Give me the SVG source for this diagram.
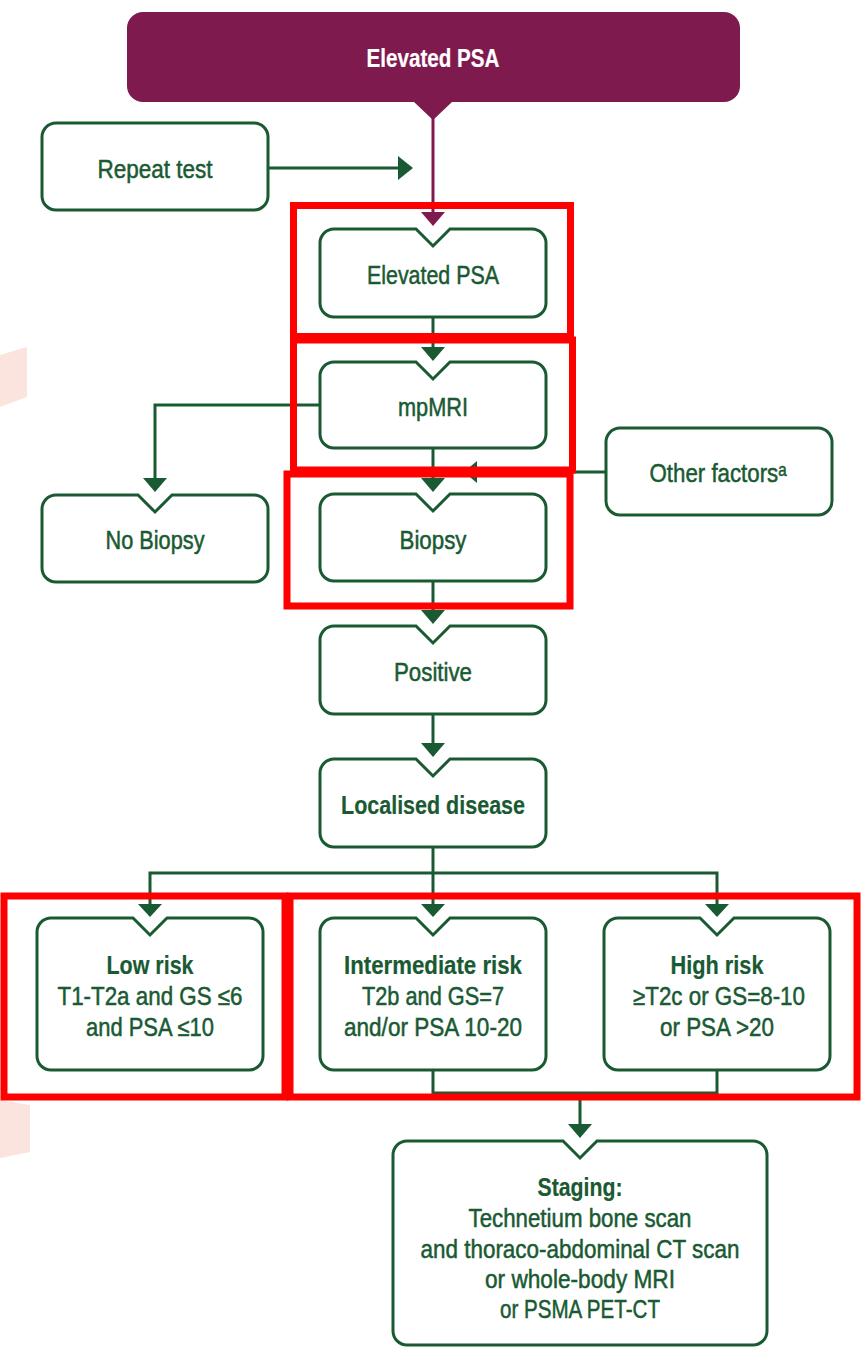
<svg xmlns="http://www.w3.org/2000/svg" width="861" height="1348" viewBox="0 0 861 1348">
  <style>
    .box { fill: #ffffff; stroke: #1a5a33; stroke-width: 3; }
    .t { font-family: "Liberation Sans Narrow", "Liberation Sans", "DejaVu Sans", Arial, sans-serif; font-size: 25px; fill: #1a5a33; stroke: #1a5a33; stroke-width: 0.5; text-anchor: middle; }
    .b { font-weight: bold; stroke-width: 0.2; }
    .w { fill: #ffffff; stroke: #ffffff; }
    .ln { stroke: #1a5a33; stroke-width: 3; fill: none; }
    .ah { fill: #1a5a33; }
    .hl { fill: none; stroke: #ff0000; stroke-width: 7; }
    .bg { fill: #fbe4dd; }
  </style>

  <rect width="861" height="1348" fill="#ffffff"/>

  <!-- faint background shapes at the left margin -->
  <g id="background">
    <polygon class="bg" points="0,355 27,347 27,397 0,407"/>
    <polygon class="bg" points="0,1100 30,1105 30,1152 0,1158"/>
  </g>

  <!-- connectors -->
  <g id="connectors">
    <line x1="433" y1="118" x2="433" y2="214" stroke="#7e1a4e" stroke-width="3"/>
    <polygon points="421,212 445,212 433,226" fill="#7e1a4e"/>

    <line class="ln" x1="268" y1="168" x2="400" y2="168"/>
    <polygon class="ah" points="398,156 398,180 413,168"/>

    <line class="ln" x1="433" y1="317" x2="433" y2="349"/>
    <polygon class="ah" points="421,347 445,347 433,361"/>

    <polyline class="ln" points="320,405 155,405 155,480"/>
    <polygon class="ah" points="143,478 167,478 155,492"/>

    <line class="ln" x1="433" y1="448" x2="433" y2="480"/>
    <polygon class="ah" points="421,478 445,478 433,492"/>

    <line class="ln" x1="606" y1="472" x2="476" y2="472"/>
    <polygon class="ah" points="477,461 477,483 464,472"/>

    <line class="ln" x1="433" y1="581" x2="433" y2="612"/>
    <polygon class="ah" points="421,610 445,610 433,624"/>

    <line class="ln" x1="433" y1="714" x2="433" y2="745"/>
    <polygon class="ah" points="421,743 445,743 433,757"/>

    <line class="ln" x1="433" y1="847" x2="433" y2="906"/>
    <polyline class="ln" points="150,906 150,873 717,873 717,906"/>
    <polygon class="ah" points="138,904 162,904 150,917"/>
    <polygon class="ah" points="421,904 445,904 433,917"/>
    <polygon class="ah" points="705,904 729,904 717,917"/>

    <polyline class="ln" points="433,1070 433,1093 717,1093 717,1070"/>
    <line class="ln" x1="580" y1="1093" x2="580" y2="1126"/>
    <polygon class="ah" points="568,1124 592,1124 580,1138"/>
  </g>

  <g id="n-elevated-top">
    <path d="M143 12 H724 A16 16 0 0 1 740 28 V86 A16 16 0 0 1 724 102 H452 L433 120 L414 102 H143 A16 16 0 0 1 127 86 V28 A16 16 0 0 1 143 12 Z" fill="#7e1a4e"/>
    <text class="t b w" x="433" y="67" textLength="133" lengthAdjust="spacingAndGlyphs">Elevated PSA</text>
  </g>

  <g id="n-repeat">
    <rect class="box" x="42" y="123" width="226" height="87" rx="14"/>
    <text class="t" x="155" y="178" textLength="115" lengthAdjust="spacingAndGlyphs">Repeat test</text>
  </g>

  <g id="n-elevated">
    <path class="box" d="M334 229 H416 L433 246 L450 229 H532 A14 14 0 0 1 546 243 V303 A14 14 0 0 1 532 317 H334 A14 14 0 0 1 320 303 V243 A14 14 0 0 1 334 229 Z"/>
    <text class="t" x="433" y="284" textLength="132" lengthAdjust="spacingAndGlyphs">Elevated PSA</text>
  </g>

  <g id="n-mpmri">
    <path class="box" d="M334 362 H416 L433 379 L450 362 H532 A14 14 0 0 1 546 376 V434 A14 14 0 0 1 532 448 H334 A14 14 0 0 1 320 434 V376 A14 14 0 0 1 334 362 Z"/>
    <text class="t" x="433" y="416" textLength="70" lengthAdjust="spacingAndGlyphs">mpMRI</text>
  </g>

  <g id="n-nobiopsy">
    <path class="box" d="M56 495 H138 L155 512 L172 495 H254 A14 14 0 0 1 268 509 V568 A14 14 0 0 1 254 582 H56 A14 14 0 0 1 42 568 V509 A14 14 0 0 1 56 495 Z"/>
    <text class="t" x="155" y="549" textLength="99" lengthAdjust="spacingAndGlyphs">No Biopsy</text>
  </g>

  <g id="n-biopsy">
    <path class="box" d="M334 494 H416 L433 511 L450 494 H532 A14 14 0 0 1 546 508 V567 A14 14 0 0 1 532 581 H334 A14 14 0 0 1 320 567 V508 A14 14 0 0 1 334 494 Z"/>
    <text class="t" x="433" y="549" textLength="67" lengthAdjust="spacingAndGlyphs">Biopsy</text>
  </g>

  <g id="n-other">
    <rect class="box" x="606" y="428" width="226" height="87" rx="14"/>
    <text class="t" x="718" y="482" textLength="137" lengthAdjust="spacingAndGlyphs">Other factorsᵃ</text>
  </g>

  <g id="n-positive">
    <path class="box" d="M334 626 H416 L433 643 L450 626 H532 A14 14 0 0 1 546 640 V700 A14 14 0 0 1 532 714 H334 A14 14 0 0 1 320 700 V640 A14 14 0 0 1 334 626 Z"/>
    <text class="t" x="433" y="681" textLength="78" lengthAdjust="spacingAndGlyphs">Positive</text>
  </g>

  <g id="n-localised">
    <path class="box" d="M334 759 H416 L433 776 L450 759 H532 A14 14 0 0 1 546 773 V833 A14 14 0 0 1 532 847 H334 A14 14 0 0 1 320 833 V773 A14 14 0 0 1 334 759 Z"/>
    <text class="t b" x="433" y="814" textLength="184" lengthAdjust="spacingAndGlyphs">Localised disease</text>
  </g>

  <g id="n-low">
    <path class="box" d="M51 918 H133 L150 935 L167 918 H249 A14 14 0 0 1 263 932 V1056 A14 14 0 0 1 249 1070 H51 A14 14 0 0 1 37 1056 V932 A14 14 0 0 1 51 918 Z"/>
    <text class="t b" x="150" y="974" textLength="87" lengthAdjust="spacingAndGlyphs">Low risk</text>
    <text class="t" x="150" y="1005" textLength="185" lengthAdjust="spacingAndGlyphs">T1-T2a and GS ≤6</text>
    <text class="t" x="150" y="1036" textLength="128" lengthAdjust="spacingAndGlyphs">and PSA ≤10</text>
  </g>

  <g id="n-intermediate">
    <path class="box" d="M334 918 H416 L433 935 L450 918 H532 A14 14 0 0 1 546 932 V1056 A14 14 0 0 1 532 1070 H334 A14 14 0 0 1 320 1056 V932 A14 14 0 0 1 334 918 Z"/>
    <text class="t b" x="433" y="974" textLength="178" lengthAdjust="spacingAndGlyphs">Intermediate risk</text>
    <text class="t" x="433" y="1005" textLength="142" lengthAdjust="spacingAndGlyphs">T2b and GS=7</text>
    <text class="t" x="433" y="1036" textLength="178" lengthAdjust="spacingAndGlyphs">and/or PSA 10-20</text>
  </g>

  <g id="n-high">
    <path class="box" d="M618 918 H700 L717 935 L734 918 H816 A14 14 0 0 1 830 932 V1056 A14 14 0 0 1 816 1070 H618 A14 14 0 0 1 604 1056 V932 A14 14 0 0 1 618 918 Z"/>
    <text class="t b" x="717" y="974" textLength="93" lengthAdjust="spacingAndGlyphs">High risk</text>
    <text class="t" x="719" y="1005" textLength="172" lengthAdjust="spacingAndGlyphs">≥T2c or GS=8-10</text>
    <text class="t" x="717" y="1036" textLength="114" lengthAdjust="spacingAndGlyphs">or PSA &gt;20</text>
  </g>

  <g id="n-staging">
    <path class="box" d="M407 1141 H563 L580 1158 L597 1141 H753 A14 14 0 0 1 767 1155 V1331 A14 14 0 0 1 753 1345 H407 A14 14 0 0 1 393 1331 V1155 A14 14 0 0 1 407 1141 Z"/>
    <text class="t b" x="580" y="1196" textLength="85" lengthAdjust="spacingAndGlyphs">Staging:</text>
    <text class="t" x="580" y="1227" textLength="223" lengthAdjust="spacingAndGlyphs">Technetium bone scan</text>
    <text class="t" x="580" y="1258" textLength="319" lengthAdjust="spacingAndGlyphs">and thoraco-abdominal CT scan</text>
    <text class="t" x="580" y="1288" textLength="190" lengthAdjust="spacingAndGlyphs">or whole-body MRI</text>
    <text class="t" x="580" y="1318" textLength="160" lengthAdjust="spacingAndGlyphs">or PSMA PET-CT</text>
  </g>

  <!-- red highlight frames -->
  <g id="highlights">
    <rect class="hl" x="293.5" y="205.5" width="277" height="131"/>
    <rect class="hl" x="293.5" y="340" width="279" height="130"/>
    <rect class="hl" x="287" y="474" width="283" height="132"/>
    <rect class="hl" x="4" y="896" width="281" height="201"/>
    <rect class="hl" x="290" y="896" width="567" height="201"/>
  </g>
</svg>
